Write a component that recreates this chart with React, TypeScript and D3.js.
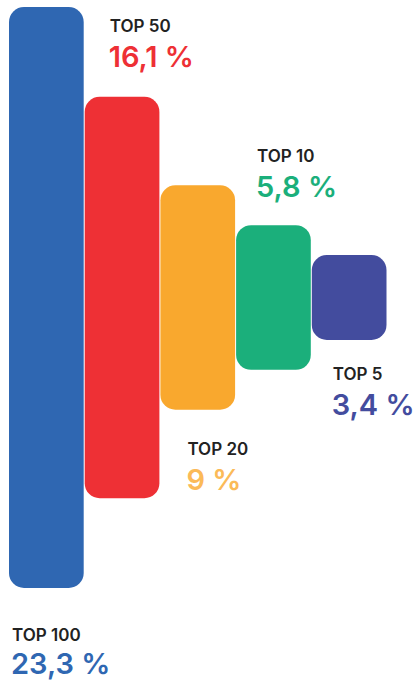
import React from "react";
import { scaleBand, scaleLinear } from "d3";

const labels = ["TOP 100", "TOP 50", "TOP 20", "TOP 10", "TOP 5"];
const values = [23.3, 16.1, 9, 5.8, 3.4];
const valueText = ["23,3 %", "16,1 %", "9 %", "5,8 %", "3,4 %"];

const WIDTH = 415;
const HEIGHT = 682;
const CENTER_Y = 297.5;

const barColors = ["#2F67B2", "#EE3035", "#F9A82E", "#1BAF7B", "#434C9E"];
const textColors = ["#2F67B2", "#EE3035", "#FBBA58", "#1BAF7B", "#434C9E"];
// where each label sits relative to its bar: side, x shift, gap from the bar edge
const labelPlace = [
  { side: "below", dx: 3, gap: 53, valueGap: 33 },
  { side: "above", dx: 25, gap: 65, valueGap: 35 },
  { side: "below", dx: 27, gap: 45, valueGap: 35 },
  { side: "above", dx: 21, gap: 63, valueGap: 35 },
  { side: "below", dx: 21, gap: 40, valueGap: 35 },
];

export default function App() {
  const x = scaleBand<string>().domain(labels).range([9, 387.5]).padding(0);
  const h = scaleLinear().domain([0, 23.3]).range([0, 581]);
  const barW = x.bandwidth() - 1;

  return (
    <svg
      width={WIDTH}
      height={HEIGHT}
      style={{ position: "absolute", left: 0, top: 0, display: "block" }}
      fontFamily="Inter, 'Noto Sans', sans-serif"
    >
      {labels.map((lab, i) => {
        const bh = h(values[i]);
        const bx = x(lab) ?? 0;
        const top = CENTER_Y - bh / 2;
        const bottom = CENTER_Y + bh / 2;
        const p = labelPlace[i];
        const labelY = p.side === "above" ? top - p.gap : bottom + p.gap;
        return (
          <g key={lab}>
            <rect x={bx} y={top} width={barW} height={bh} rx={15} ry={15} fill={barColors[i]} />
            <text x={bx + p.dx} y={labelY} fontSize={17} fontWeight={600} fill="#222">
              {lab}
            </text>
            <text x={bx + p.dx - 1} y={labelY + p.valueGap} fontSize={29} fontWeight={600} fill={textColors[i]}>
              {valueText[i]}
            </text>
          </g>
        );
      })}
    </svg>
  );
}
